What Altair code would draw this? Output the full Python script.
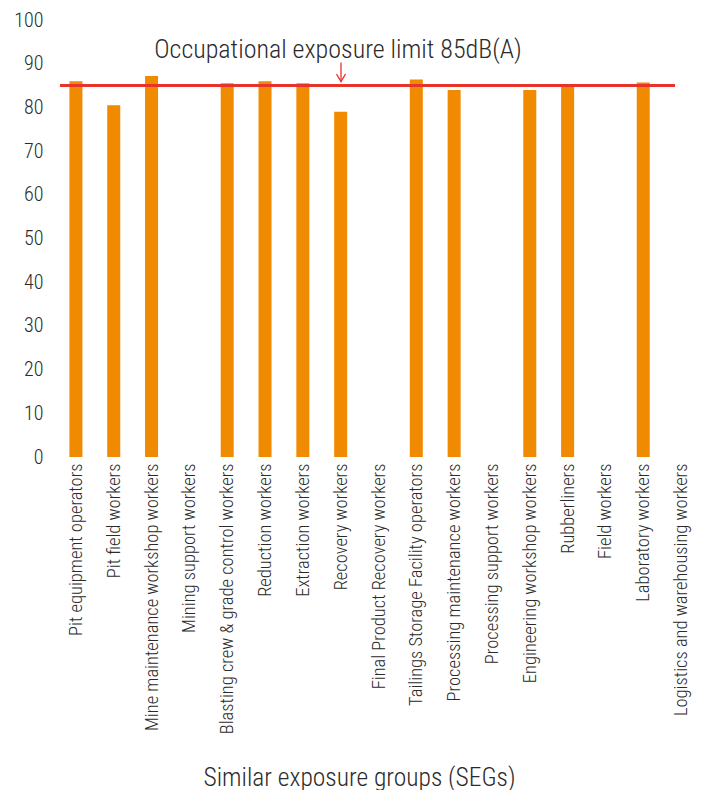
import altair as alt
import pandas as pd

# Similar exposure groups (SEGs) and their measured noise levels, dB(A)
groups = [
    "Pit equipment operators",
    "Pit field workers",
    "Mine maintenance workshop workers",
    "Mining support workers",
    "Blasting crew & grade control workers",
    "Reduction workers",
    "Extraction workers",
    "Recovery workers",
    "Final Product Recovery workers",
    "Tailings Storage Facility  operators",
    "Processing maintenance workers",
    "Processing support workers",
    "Engineering workshop workers",
    "Rubberliners",
    "Field workers",
    "Laboratory workers",
    "Logistics and warehousing workers",
]
levels = [86.0, 80.5, 87.2, None, 85.5, 86.0, 85.5, 79.0, None, 86.4,
          84.0, None, 84.0, 85.1, None, 85.7, None]

limit_db = [85]
limit_label = ["Occupational exposure limit 85dB(A)"]
arrow_top = [90.3]
arrow_tip = [85.9]

y_ticks = list(range(0, 101, 10))

FONT = "Roboto Condensed"
WEIGHT = 300
BAR = "#F08A00"
RED = "#E8332B"
INK = "#2b2b2b"

bars_df = pd.DataFrame({"group": groups, "level": levels})
limit_df = pd.DataFrame({"limit": limit_db, "label": limit_label,
                         "top": arrow_top, "tip": arrow_tip})

x_enc = alt.X(
    "group:N",
    sort=groups,
    title="Similar exposure groups (SEGs)",
    scale=alt.Scale(paddingInner=0, paddingOuter=0),
    axis=alt.Axis(
        labelAngle=-90,
        labelAlign="right",
        labelBaseline="middle",
        labelFontSize=18.5,
        labelFontWeight=WEIGHT,
        labelPadding=6,
        labelLimit=0,
        labelColor=INK,
        labelFont=FONT,
        domain=False,
        ticks=False,
        titleFont=FONT,
        titleFontSize=25.5,
        titleFontWeight=WEIGHT,
        titleColor=INK,
        titleAlign="center",
        titleBaseline="alphabetic",
        titleX=302,
        titleY=328,
    ),
)

y_scale = alt.Scale(domain=[0, 100], nice=False)
y_enc = alt.Y(
    "level:Q",
    scale=y_scale,
    title=None,
    axis=alt.Axis(
        values=y_ticks,
        labelFontSize=20,
        labelFontWeight=WEIGHT,
        labelPadding=14,
        labelColor=INK,
        labelFont=FONT,
        domain=False,
        ticks=False,
        grid=False,
    ),
)

bars = alt.Chart(bars_df).mark_bar(size=13, color=BAR).encode(x=x_enc, y=y_enc)

limit_line = alt.Chart(limit_df).mark_rule(color=RED, strokeWidth=3).encode(
    y=alt.Y("limit:Q", scale=y_scale),
    x=alt.value(3),
    x2=alt.value(618),
)

limit_text = alt.Chart(limit_df).mark_text(
    font=FONT, fontSize=26, fontWeight=WEIGHT, color=INK, align="center",
    baseline="middle"
).encode(
    text="label:N",
    x=alt.value(281),
    y=alt.value(30),
)

arrow_shaft = alt.Chart(limit_df).mark_rule(color=RED, strokeWidth=1.3).encode(
    y=alt.Y("top:Q", scale=y_scale),
    y2="tip:Q",
    x=alt.value(284),
)

arrow_head = alt.Chart(limit_df).mark_point(
    shape="M-1,-1.7L0,0L1,-1.7", size=80, filled=False, color=RED, strokeWidth=1.3,
    opacity=1,
).encode(
    y=alt.Y("tip:Q", scale=y_scale),
    x=alt.value(284),
)

chart = (
    alt.layer(bars, limit_line, arrow_shaft, arrow_head, limit_text)
    .properties(
        width=643,
        height=437,
        autosize=alt.AutoSizeParams(type="none"),
        padding={"left": 57, "top": 20, "right": 9, "bottom": 333},
        background="white",
    )
    .configure_view(stroke=None)
)

chart.save("out.html", embed_options={"renderer": "svg", "actions": False})
